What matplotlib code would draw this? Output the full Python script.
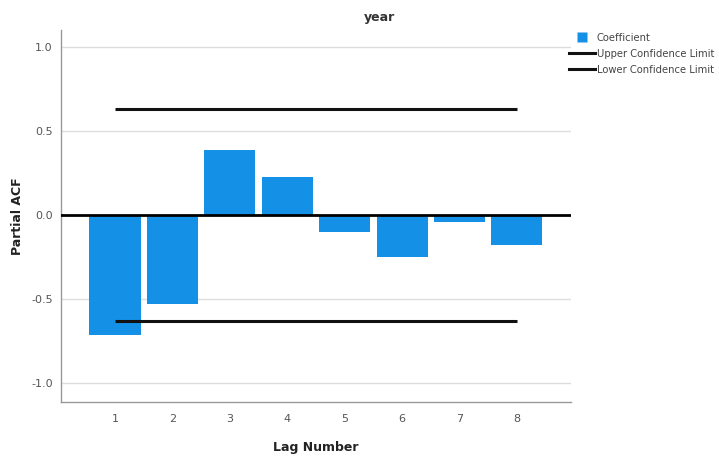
import numpy as np
import matplotlib.pyplot as plt
from matplotlib.lines import Line2D

lags = [1, 2, 3, 4, 5, 6, 7, 8]
pacf = [-0.714, -0.53, 0.387, 0.226, -0.10, -0.25, -0.04, -0.18]
upper_limit = [0.63] * 8
lower_limit = [-0.63] * 8
yticks = [-1.0, -0.5, 0.0, 0.5, 1.0]

fig = plt.figure(figsize=(7.19, 4.57), dpi=100)
ax = fig.add_axes([0.0848, 0.1204, 0.7092, 0.8140])

ax.set_xlim(0.06, 8.94)
ax.set_ylim(-1.113, 1.10)

for y in yticks:
    ax.axhline(y, color='#dddddd', linewidth=1.0, zorder=0)

ax.bar(lags, pacf, width=0.89, color='#1490e6', zorder=2)
ax.axhline(0, color='black', linewidth=2.0, zorder=3)
ax.plot(lags, upper_limit, color='#111111', linewidth=2.2, solid_capstyle='butt', zorder=3)
ax.plot(lags, lower_limit, color='#111111', linewidth=2.2, solid_capstyle='butt', zorder=3)

ax.set_xticks(lags)
ax.set_yticks(yticks)
ax.set_yticklabels(['%.1f' % v for v in yticks])
ax.tick_params(length=0, colors='#555555', labelsize=8, pad=6)
ax.tick_params(axis='x', pad=9)

for s in ['top', 'right']:
    ax.spines[s].set_visible(False)
for s in ['left', 'bottom']:
    ax.spines[s].set_color('#999999')
    ax.spines[s].set_linewidth(1.0)

ax.set_xlabel('Lag Number', fontsize=9, fontweight='bold', color='#222222', labelpad=12)
ax.set_ylabel('Partial ACF', fontsize=9, fontweight='bold', color='#222222')
ax.yaxis.set_label_coords(-0.072, 0.5)
fig.text(379 / 719, 1 - 17 / 457, 'year', ha='center', va='center', fontsize=9,
         fontweight='bold', color='#333333')

handles = [Line2D([], [], linestyle='none', marker='s', markersize=6.5,
                  markerfacecolor='#1490e6', markeredgecolor='none', label='Coefficient'),
           Line2D([], [], color='#111111', linewidth=2.2, label='Upper Confidence Limit'),
           Line2D([], [], color='#111111', linewidth=2.2, label='Lower Confidence Limit')]
fig.legend(handles=handles, loc='upper left', bbox_to_anchor=(0.792, 0.928), frameon=False,
           fontsize=7.2, handlelength=2.6, handletextpad=0.15, labelspacing=0.6,
           borderaxespad=0, borderpad=0, labelcolor='#444444')

fig.savefig('out.png')
